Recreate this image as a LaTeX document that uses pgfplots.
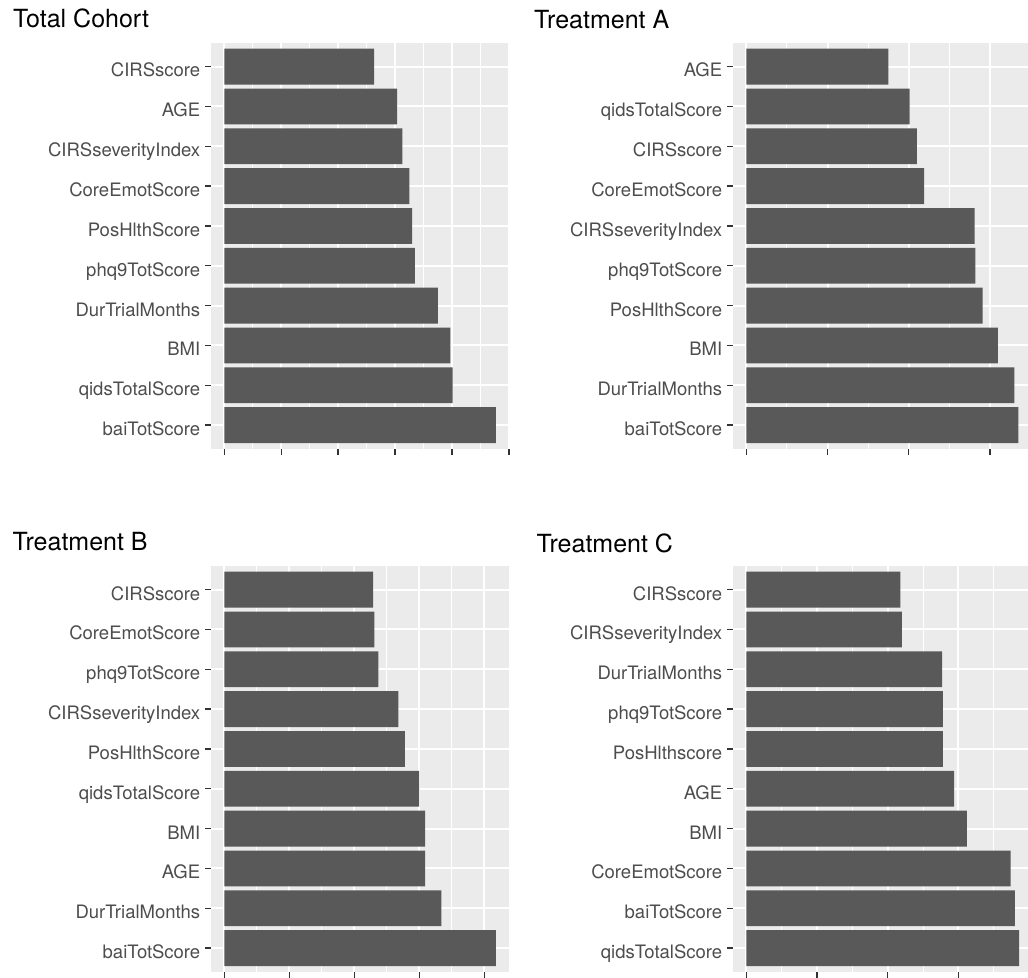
\documentclass[border=0pt]{standalone}
\usepackage{pgfplots}
\pgfplotsset{compat=1.18}
\usepackage{fontspec}
\setmainfont{TeX Gyre Heros}
\definecolor{panelbg}{HTML}{EBEBEB}
\definecolor{barcol}{HTML}{595959}
\definecolor{labcol}{HTML}{4D4D4D}
\definecolor{tickcol}{HTML}{333333}
\pgfplotsset{
  ggbar/.style={
    scale only axis,
    xbar, bar width=0.9, bar shift=0pt,
    y dir=reverse, ymin=0.4, ymax=10.6,
    ytick={1,...,10},
    axis background/.style={fill=panelbg},
    axis line style={draw=none},
    tick align=outside,
    xtick pos=left, ytick pos=left,
    major tick length=2.75pt,
    minor tick length=0pt,
    tick style={tickcol, line width=0.65pt},
    xmajorgrids, xminorgrids, ymajorgrids,
    minor x tick num=1,
    major grid style={white, line width=1pt},
    minor grid style={white, line width=0.5pt},
    xticklabels={},
    yticklabel style={font=\fontsize{9.25pt}{11pt}\selectfont, text=labcol, inner sep=0pt, anchor=east, text height=0.72em, text depth=0pt, yshift=-1.6pt, xshift=-2.3pt},
    height=203.15pt,
  },
  ggplot/.style={fill=barcol, draw=none},
}
\newcommand{\ttl}[1]{\fontsize{12.5pt}{15pt}\selectfont #1}
\begin{document}
\begin{tikzpicture}
\useasboundingbox (0,0) rectangle (514pt,-489pt);
\clip (0,0) rectangle (514pt,-489pt);

% Total Cohort
\begin{axis}[ggbar, anchor=north west, at={(105.35pt,-21.35pt)}, width=149.4pt,
  xmin=-0.2385, xmax=5.01, xtick={0,1,2,3,4,5},
  yticklabels={CIRSscore,AGE,CIRSseverityIndex,CoreEmotScore,PosHlthScore,phq9TotScore,DurTrialMonths,BMI,qidsTotalScore,baiTotScore}]
\addplot[ggplot] coordinates {(2.63,1) (3.035,2) (3.13,3) (3.25,4) (3.30,5) (3.35,6) (3.75,7) (3.97,8) (4.01,9) (4.77,10)};
\end{axis}

% Treatment A
\begin{axis}[ggbar, anchor=north west, at={(366.35pt,-21.35pt)}, width=149.7pt,
  xmin=-0.1675, xmax=3.5175, xtick={0,1,2,3},
  yticklabels={AGE,qidsTotalScore,CIRSscore,CoreEmotScore,CIRSseverityIndex,phq9TotScore,PosHlthScore,BMI,DurTrialMonths,baiTotScore}]
\addplot[ggplot] coordinates {(1.75,1) (2.01,2) (2.10,3) (2.19,4) (2.81,5) (2.82,6) (2.91,7) (3.095,8) (3.30,9) (3.35,10)};
\end{axis}

% Treatment B
\begin{axis}[ggbar, anchor=north west, at={(105.35pt,-282.85pt)}, width=149.4pt,
  xmin=-0.209, xmax=4.389, xtick={0,1,2,3,4},
  yticklabels={CIRSscore,CoreEmotScore,phq9TotScore,CIRSseverityIndex,PosHlthScore,qidsTotalScore,BMI,AGE,DurTrialMonths,baiTotScore}]
\addplot[ggplot] coordinates {(2.29,1) (2.31,2) (2.37,3) (2.68,4) (2.78,5) (3.00,6) (3.09,7) (3.09,8) (3.34,9) (4.18,10)};
\end{axis}

% Treatment C
\begin{axis}[ggbar, anchor=north west, at={(366.35pt,-282.85pt)}, width=148.15pt,
  xmin=-0.193, xmax=4.0, xtick={0,1,2,3,4},
  yticklabels={CIRSscore,CIRSseverityIndex,DurTrialMonths,phq9TotScore,PosHlthscore,AGE,BMI,CoreEmotScore,baiTotScore,qidsTotalScore}]
\addplot[ggplot] coordinates {(2.18,1) (2.20,2) (2.77,3) (2.78,4) (2.78,5) (2.94,6) (3.12,7) (3.74,8) (3.80,9) (3.86,10)};
\end{axis}

\node[anchor=base west, inner sep=0pt] at (6.4pt,-13.65pt) {\ttl{Total Cohort}};
\node[anchor=base west, inner sep=0pt] at (266.9pt,-14.15pt) {\ttl{Treatment A}};
\node[anchor=base west, inner sep=0pt] at (6.1pt,-275pt) {\ttl{Treatment B}};
\node[anchor=base west, inner sep=0pt] at (268.1pt,-276.35pt) {\ttl{Treatment C}};
\end{tikzpicture}
\end{document}
